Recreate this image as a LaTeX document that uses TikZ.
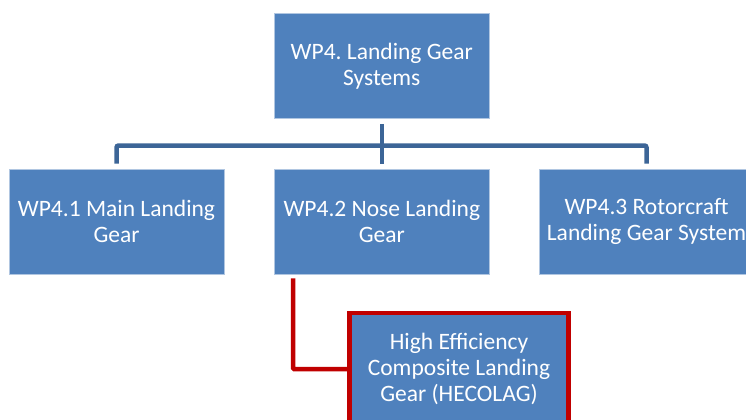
\documentclass[tikz,border=0pt]{standalone}
\usepackage{fontspec}
\setmainfont{Carlito}
\definecolor{boxblue}{HTML}{4F81BD}
\definecolor{connblue}{HTML}{3C6597}
\definecolor{hired}{HTML}{C00000}
\begin{document}
\frenchspacing
\begin{tikzpicture}[x=1bp,y=-1bp,
  wbox/.style={rectangle, fill=boxblue, draw=white!55!boxblue, line width=0.8bp,
    minimum width=215bp, minimum height=105bp, inner sep=0pt,
    text=white, align=center, font=\fontsize{23.6}{26.3}\selectfont},
  hbox/.style={wbox, draw=hired, line width=4.5bp, minimum width=219bp, minimum height=112bp},
  conn/.style={draw=connblue, line width=4.5bp, rounded corners=2bp},
  redconn/.style={draw=hired, line width=4.5bp, rounded corners=1bp}]
\useasboundingbox (0,0) rectangle (746,419);
\clip (0,0) rectangle (746,419);
\node[wbox] (top) at (381.8,66) {WP4. Landing Gear\\Systems};
\node[wbox] (a) at (116.5,221.5) {WP4.1 Main Landing\\Gear};
\node[wbox] (b) at (381.8,221.5) {WP4.2 Nose Landing\\Gear};
\node[wbox] (c) at (646.5,221.5) {WP4.3 Rotorcraft\\Landing Gear System};
\node[hbox] (d) at (459,369) {High Efficiency\\Composite Landing\\Gear (HECOLAG)};
\coordinate (bus) at (381.8,145.5);
\draw[conn] ([yshift=-5bp]top.south) -- (top.south |- bus);
\draw[conn] ([yshift=5bp]a.north) -- (a.north |- bus) -- (c.north |- bus) -- ([yshift=5bp]c.north);
\draw[conn] (bus) -- ([yshift=5bp]b.north);
\coordinate (rs) at ([xshift=19.2bp,yshift=-4bp]b.south west);
\draw[redconn] (rs) |- (d.west);
\end{tikzpicture}
\end{document}
